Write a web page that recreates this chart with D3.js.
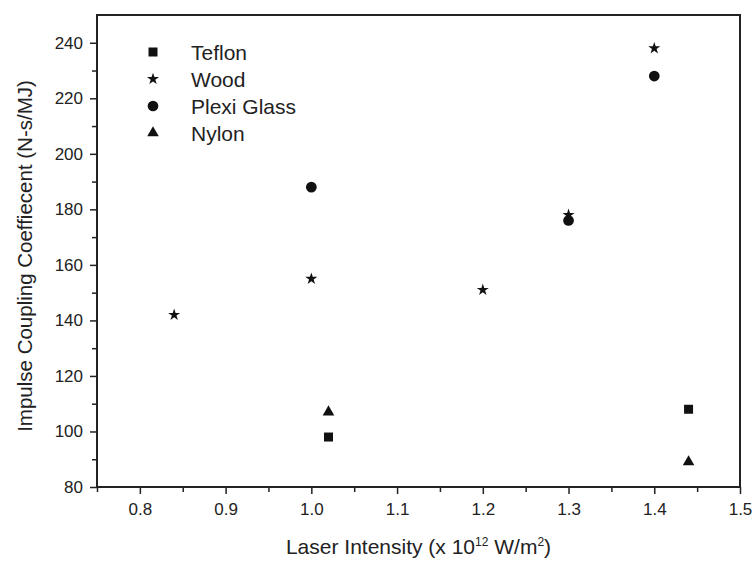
<!DOCTYPE html>
<html><head><meta charset="utf-8">
<script src="https://cdn.jsdelivr.net/npm/d3@7"></script>
<style>body{margin:0;background:#fff}svg{display:block}text{font-family:"Liberation Sans",Arial,sans-serif;fill:#222}</style>
</head><body><svg id="c" width="756" height="563"></svg>
<script>
const teflonX=[1.02,1.44], teflonY=[98,108];
const woodX=[0.84,1.0,1.2,1.3,1.4], woodY=[142,155,151,178,238];
const plexiX=[1.0,1.3,1.4], plexiY=[188,176,228];
const nylonX=[1.02,1.44], nylonY=[107,89];
const xTicks=[0.8,0.9,1.0,1.1,1.2,1.3,1.4,1.5];
const xMinor=[0.75,0.85,0.95,1.05,1.15,1.25,1.35,1.45];
const yTicks=[80,100,120,140,160,180,200,220,240];
const yMinor=[90,110,130,150,170,190,210,230];
const seriesNames=["Teflon","Wood","Plexi Glass","Nylon"];

const svg=d3.select("#c");
const L=97,R=740,T=15,B=487;
const x=d3.scaleLinear().domain([0.75,1.5]).range([L,R]);
const y=d3.scaleLinear().domain([80,250]).range([B,T]);
const col="#222";

// minor ticks
svg.append("g").attr("transform",`translate(0,${B})`)
  .call(d3.axisBottom(x).tickValues(xMinor).tickSize(5).tickFormat(""))
  .call(g=>{g.select(".domain").remove();g.selectAll("line").attr("stroke",col).attr("stroke-width",1.5);});
svg.append("g").attr("transform",`translate(${L},0)`)
  .call(d3.axisLeft(y).tickValues(yMinor).tickSize(5).tickFormat(""))
  .call(g=>{g.select(".domain").remove();g.selectAll("line").attr("stroke",col).attr("stroke-width",1.5);});
// major
svg.append("g").attr("transform",`translate(0,${B})`)
  .call(d3.axisBottom(x).tickValues(xTicks).tickSize(7).tickPadding(9).tickFormat(d3.format(".1f")))
  .call(g=>{g.select(".domain").remove();g.selectAll("line").attr("stroke",col).attr("stroke-width",1.5);
    g.selectAll("text").attr("font-size",17).attr("fill",col).style("font-family","'Liberation Sans',Arial");});
svg.append("g").attr("transform",`translate(${L},0)`)
  .call(d3.axisLeft(y).tickValues(yTicks).tickSize(7).tickPadding(7))
  .call(g=>{g.select(".domain").remove();g.selectAll("line").attr("stroke",col).attr("stroke-width",1.5);
    g.selectAll("text").attr("font-size",17).attr("fill",col).style("font-family","'Liberation Sans',Arial");});

// frame
svg.append("rect").attr("x",L).attr("y",T).attr("width",R-L).attr("height",B-T)
  .attr("fill","none").attr("stroke",col).attr("stroke-width",2);

const sym={Teflon:[d3.symbolSquare,81],Wood:[d3.symbolStar,45],"Plexi Glass":[d3.symbolCircle,90],Nylon:[d3.symbolTriangle,58]};
const series=[["Teflon",teflonX,teflonY],["Wood",woodX,woodY],["Plexi Glass",plexiX,plexiY],["Nylon",nylonX,nylonY]];
series.forEach(([name,xs,ys])=>{
  const s=d3.symbol().type(sym[name][0]).size(sym[name][1]);
  svg.append("g").selectAll("path").data(xs.map((v,i)=>[v,ys[i]])).join("path")
    .attr("d",s).attr("fill","#111")
    .attr("transform",d=>`translate(${x(d[0])},${y(d[1])})`);
});

// legend
const lg=svg.append("g");
seriesNames.forEach((n,i)=>{
  const cy=52+i*27;
  lg.append("path").attr("d",d3.symbol().type(sym[n][0]).size(sym[n][1])).attr("fill","#111")
    .attr("transform",`translate(153,${cy})`);
  lg.append("text").attr("x",191).attr("y",cy).attr("dy","0.36em").attr("font-size",21).text(n);
});

// axis titles
const xt=svg.append("text").attr("x",(L+R)/2).attr("y",554).attr("text-anchor","middle").attr("font-size",21);
xt.append("tspan").text("Laser Intensity (x 10");
xt.append("tspan").attr("font-size",12).attr("dy",-8).text("12");
xt.append("tspan").attr("dy",8).text(" W/m");
xt.append("tspan").attr("font-size",12).attr("dy",-8).text("2");
xt.append("tspan").attr("dy",8).text(")");

svg.append("text").attr("transform",`translate(32,256) rotate(-90)`)
  .attr("text-anchor","middle").attr("font-size",20.5).text("Impulse Coupling Coeffiecent (N-s/MJ)");
</script></body></html>
